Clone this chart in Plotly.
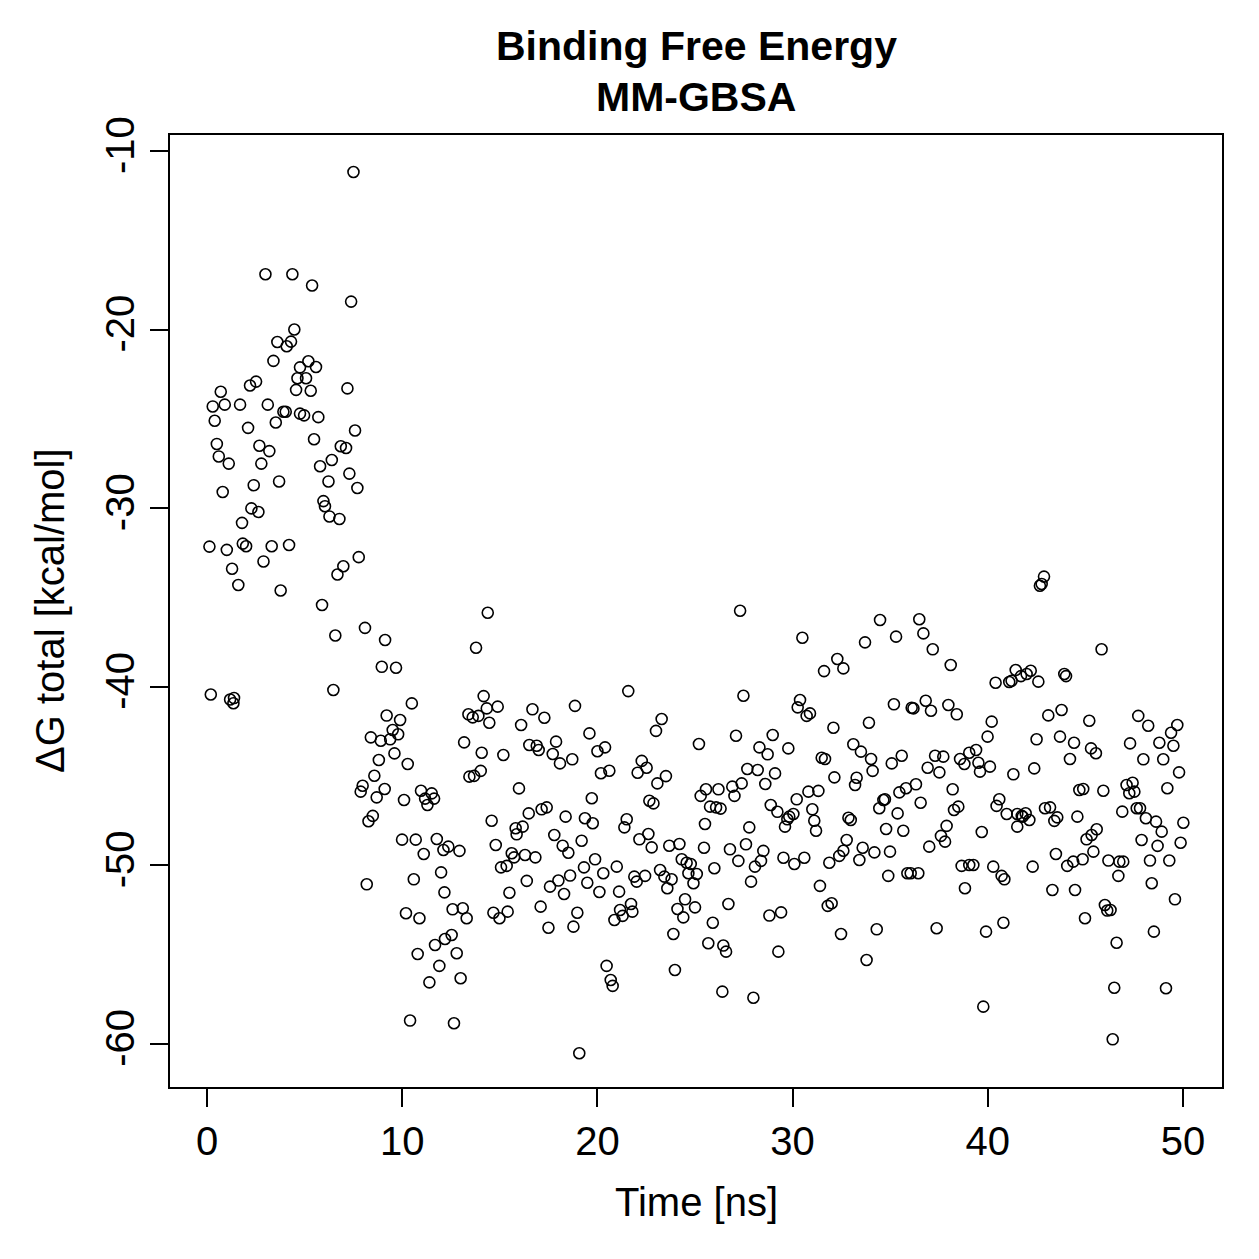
import plotly.graph_objects as go

# ---- data ----
time_ns = [
    0.12, 0.19, 0.29, 0.39, 0.50, 0.60, 0.70, 0.80, 0.905, 1.01, 1.11, 1.18, 1.28, 1.35, 1.38, 1.60, 1.69, 1.79,
    1.83, 2.00, 2.10, 2.20, 2.27, 2.39, 2.51, 2.63, 2.68, 2.78, 2.89, 2.99, 3.11, 3.19, 3.31, 3.40, 3.52, 3.60,
    3.69, 3.77, 3.91, 4.03, 4.08, 4.20, 4.30, 4.37, 4.47, 4.56, 4.63, 4.76, 4.76, 4.97, 5.07, 5.19, 5.31, 5.38,
    5.48, 5.58, 5.70, 5.79, 5.89, 5.96, 6.04, 6.22, 6.27, 6.39, 6.47, 6.57, 6.68, 6.78, 6.85, 6.98, 7.12, 7.19,
    7.29, 7.38, 7.50, 7.58, 7.70, 7.77, 7.87, 7.97, 8.09, 8.18, 8.27, 8.39, 8.49, 8.57, 8.69, 8.80, 8.90, 8.95,
    9.10, 9.12, 9.20, 9.38, 9.51, 9.60, 9.68, 9.79, 9.89, 9.99, 10.09, 10.19, 10.28, 10.40, 10.49, 10.59, 10.69,
    10.79, 10.88, 10.96, 11.10, 11.17, 11.29, 11.39, 11.51, 11.63, 11.68, 11.77, 11.90, 11.99, 12.11, 12.16,
    12.19, 12.36, 12.53, 12.58, 12.65, 12.79, 12.93, 12.99, 13.10, 13.17, 13.30, 13.39, 13.44, 13.61, 13.68,
    13.78, 13.90, 14.02, 14.07, 14.17, 14.33, 14.38, 14.46, 14.58, 14.67, 14.79, 14.89, 14.98, 15.06, 15.18,
    15.35, 15.40, 15.49, 15.61, 15.73, 15.81, 15.86, 15.98, 16.09, 16.17, 16.29, 16.38, 16.48, 16.51, 16.67,
    16.82, 16.89, 16.99, 17.09, 17.14, 17.28, 17.40, 17.49, 17.57, 17.71, 17.79, 17.88, 18.00, 18.08, 18.22,
    18.29, 18.37, 18.51, 18.60, 18.71, 18.77, 18.85, 18.97, 19.07, 19.19, 19.31, 19.36, 19.48, 19.59, 19.71,
    19.76, 19.88, 20.00, 20.10, 20.18, 20.30, 20.39, 20.47, 20.61, 20.68, 20.78, 20.87, 20.99, 21.11, 21.16,
    21.29, 21.38, 21.50, 21.58, 21.72, 21.79, 21.89, 22.01, 22.06, 22.15, 22.27, 22.44, 22.52, 22.61, 22.66,
    22.78, 22.87, 23.00, 23.07, 23.21, 23.29, 23.43, 23.51, 23.58, 23.68, 23.80, 23.89, 23.97, 24.10, 24.20,
    24.32, 24.40, 24.49, 24.57, 24.66, 24.78, 24.92, 25.00, 25.09, 25.20, 25.29, 25.46, 25.51, 25.56, 25.68,
    25.77, 25.91, 25.99, 26.08, 26.20, 26.31, 26.40, 26.45, 26.59, 26.71, 26.79, 26.91, 27.02, 27.10, 27.22,
    27.31, 27.39, 27.48, 27.61, 27.68, 27.78, 27.87, 27.99, 28.07, 28.21, 28.30, 28.38, 28.50, 28.60, 28.72,
    28.81, 28.88, 28.98, 29.10, 29.22, 29.27, 29.41, 29.53, 29.61, 29.73, 29.78, 29.83, 30.04, 30.09, 30.21,
    30.26, 30.38, 30.50, 30.60, 30.72, 30.81, 30.89, 31.01, 31.11, 31.20, 31.32, 31.40, 31.49, 31.61, 31.66,
    31.80, 31.88, 32.00, 32.09, 32.14, 32.29, 32.39, 32.48, 32.60, 32.60, 32.77, 32.86, 32.98, 33.11, 33.20,
    33.28, 33.42, 33.50, 33.59, 33.71, 33.79, 33.91, 34.02, 34.10, 34.19, 34.31, 34.44, 34.48, 34.65, 34.73,
    34.79, 34.90, 34.99, 35.08, 35.19, 35.30, 35.38, 35.47, 35.59, 35.67, 35.81, 35.88, 36.05, 36.10, 36.19,
    36.32, 36.44, 36.49, 36.56, 36.70, 36.82, 36.92, 37.00, 37.09, 37.18, 37.30, 37.38, 37.52, 37.60, 37.72,
    37.81, 37.89, 37.98, 38.10, 38.20, 38.27, 38.41, 38.49, 38.58, 38.66, 38.80, 38.83, 39.05, 39.05, 39.26,
    39.40, 39.52, 39.60, 39.69, 39.77, 39.91, 39.99, 40.11, 40.20, 40.28, 40.40, 40.45, 40.59, 40.71, 40.80,
    40.85, 40.97, 41.10, 41.22, 41.31, 41.43, 41.51, 41.51, 41.70, 41.74, 41.79, 41.94, 41.99, 42.13, 42.20,
    42.30, 42.38, 42.50, 42.59, 42.67, 42.76, 42.88, 42.93, 43.10, 43.19, 43.31, 43.41, 43.49, 43.56, 43.70,
    43.78, 43.92, 44.01, 44.07, 44.21, 44.38, 44.42, 44.47, 44.59, 44.69, 44.86, 44.89, 44.98, 45.06, 45.20,
    45.29, 45.32, 45.41, 45.54, 45.58, 45.83, 45.92, 46.00, 46.12, 46.18, 46.29, 46.40, 46.48, 46.60, 46.69,
    46.74, 46.89, 46.94, 47.11, 47.25, 47.29, 47.42, 47.51, 47.63, 47.71, 47.80, 47.88, 47.97, 48.10, 48.22,
    48.31, 48.40, 48.51, 48.62, 48.70, 48.79, 48.91, 48.99, 49.13, 49.20, 49.30, 49.39, 49.51, 49.59, 49.71,
    49.80, 49.88, 50.02,
]

dg_total = [
    -32.15, -40.43, -24.30, -25.10, -26.40, -27.10, -23.48, -29.09, -24.20, -32.33, -27.50, -40.71, -33.39, -40.92, -40.63, -34.30, -24.20, -30.82,
    -31.98, -32.13, -25.50, -23.13, -30.01, -28.71, -22.91, -30.21, -26.50, -27.50, -32.98, -16.90, -24.20, -26.80, -32.13, -21.75, -25.20, -20.69,
    -28.50, -34.61, -24.60, -24.60, -20.93, -32.06, -20.67, -16.90, -19.99, -23.37, -22.72, -22.11, -24.70, -24.80, -22.72, -21.77, -23.42, -17.53,
    -26.14, -22.09, -24.90, -27.65, -35.42, -29.60, -29.89, -28.50, -30.46, -27.30, -40.18, -37.13, -33.71, -30.60, -26.53, -33.25, -26.63, -23.29,
    -28.06, -18.43, -11.17, -25.65, -28.87, -32.74, -45.87, -45.54, -36.70, -51.06, -47.53, -42.83, -47.23, -44.98, -46.19, -44.10, -43.02, -38.88,
    -45.72, -37.38, -41.61, -42.94, -42.42, -43.73, -38.93, -42.66, -41.86, -48.56, -46.34, -52.68, -44.32, -58.69, -40.93, -50.78, -48.56,
    -54.96, -52.96, -45.82, -49.36, -46.26, -46.62, -56.55, -45.97, -46.26, -54.46, -48.52, -55.63, -50.39, -49.14, -51.51,
    -54.12, -48.95, -53.90, -52.46, -58.84, -54.92, -49.19, -56.32, -52.40, -43.11, -52.96, -41.54, -45.03, -41.71, -44.99,
    -37.81, -41.63, -44.71, -43.69, -40.52, -41.21, -35.85, -42.01, -47.50, -52.65, -48.86, -41.11, -52.96, -50.11, -43.82,
    -50.03, -52.59, -51.53, -49.32, -49.55, -47.92, -48.26, -45.69, -42.14, -47.83, -49.42, -50.87, -47.09, -43.26, -41.26,
    -49.55, -43.30, -43.54, -52.31, -46.86, -41.73, -46.75, -53.49, -51.19, -43.76, -48.30, -43.07, -50.85, -44.29, -48.90,
    -51.60, -47.27, -49.29, -50.57, -44.06, -53.43, -41.07, -52.65, -60.52, -48.62, -50.11, -47.36, -50.97, -42.61, -46.24,
    -47.64, -49.66, -43.61, -51.49, -44.84, -50.44, -43.39, -55.63, -44.70, -56.42, -56.75, -53.06, -50.07, -51.47, -52.50,
    -52.83, -47.87, -47.42, -40.24, -52.16, -52.59, -50.63, -50.91, -44.81, -48.54, -44.15, -50.59, -44.53, -48.24, -46.38,
    -48.99, -46.53, -42.47, -45.41, -50.26, -41.80, -50.63, -45.00, -51.28, -48.90, -50.78, -53.84, -55.86, -52.44, -48.80,
    -49.66, -52.91, -51.90, -49.85, -50.44, -49.92, -51.00, -52.35, -50.48, -43.20, -46.11, -49.01, -47.68, -45.74, -54.36,
    -46.71, -53.21, -50.16, -46.75, -45.74, -46.82, -57.07, -54.49, -54.83, -52.16, -49.10, -45.59, -46.11, -42.74, -49.75,
    -35.74, -45.41, -40.50, -48.82, -44.60, -47.87, -50.91, -57.41, -50.07, -44.66, -43.39, -49.75, -49.19, -45.44, -43.78,
    -52.81, -46.62, -42.70, -44.85, -47.00, -54.83, -52.63, -49.57, -47.83, -47.42, -43.45, -47.27, -47.12, -49.92, -46.30,
    -41.15, -40.74, -37.25, -49.57, -41.63, -45.87, -41.49, -46.86, -47.50, -48.06, -45.83, -51.15, -43.97, -39.12, -44.04,
    -52.27, -49.85, -52.12, -42.29, -45.07, -38.44, -49.47, -53.84, -38.97, -49.18, -48.58, -47.33, -47.46, -43.22, -45.50,
    -45.09, -49.70, -43.63, -49.01, -37.51, -55.30, -42.01, -44.04, -44.71, -49.27, -53.58, -46.80, -36.26, -46.34, -46.30,
    -47.96, -50.59, -49.23, -44.29, -40.98, -37.19, -47.09, -45.91, -43.86, -48.06, -45.68, -50.44, -50.44, -41.17, -41.21,
    -45.46, -50.44, -36.22, -46.49, -37.01, -40.78, -44.53, -48.95, -41.34, -37.90, -43.86, -53.52, -44.79, -48.35, -43.91,
    -48.67, -47.79, -41.02, -38.78, -45.74, -46.90, -41.54, -46.71, -44.04, -50.03, -44.32, -51.28, -49.98, -43.69, -49.98,
    -43.54, -44.25, -44.75, -48.13, -57.91, -53.71, -42.79, -44.47, -41.95, -50.07, -39.77, -46.67, -46.30, -50.59, -53.21,
    -50.78, -47.12, -39.73, -39.66, -44.90, -39.06, -47.12, -47.83, -39.40, -47.23, -47.27, -47.08, -39.28, -47.46, -39.10,
    -50.07, -44.57, -42.94, -39.71, -34.34, -34.24, -33.83, -46.80, -41.60, -46.75, -51.38, -47.51, -49.36, -47.31, -42.79,
    -41.30, -39.28, -39.40, -50.03, -44.04, -49.79, -43.13, -51.38, -47.27, -45.78, -49.66, -45.72, -52.96, -48.54, -41.90,
    -43.45, -48.30, -49.23, -43.72, -47.98, -37.90, -45.82, -52.22, -52.53, -49.73, -52.50, -59.74, -56.85, -54.33, -50.59,
    -49.79, -46.99, -49.79, -45.50, -45.96, -43.17, -45.37, -45.87, -46.80, -41.63, -46.80, -48.58, -44.06, -47.36, -42.18,
    -49.73, -51.00, -53.71, -47.55, -48.91, -43.13, -48.11, -44.06, -56.88, -45.68, -49.73, -42.57, -43.30, -51.90, -42.14,
    -44.79, -48.73, -47.61,
]

x_ticks = [0, 10, 20, 30, 40, 50]
y_ticks = [-10, -20, -30, -40, -50, -60]
y_tick_text = ["-10", "-20", "-30", "-40", "-50", "-60"]

title_line1 = "Binding Free Energy"
title_line2 = "MM-GBSA"
x_title = "Time [ns]"
y_title = "ΔG total [kcal/mol]"

FONT = "Liberation Sans, Arial, Helvetica, sans-serif"

fig = go.Figure()
fig.add_trace(go.Scatter(
    x=time_ns, y=dg_total, mode="markers",
    marker=dict(symbol="circle-open", size=11, color="black",
                line=dict(width=1.6, color="black")),
    showlegend=False, hoverinfo="x+y",
))

L, R, T, B = 170, 37, 135, 172
W = H = 1259
plot_w = W - L - R
plot_h = H - T - B

def py(ypix):
    return (H - B - ypix) / plot_h

def px(xpix):
    return (xpix - L) / plot_w

fig.update_layout(
    width=W, height=H,
    margin=dict(l=L, r=R, t=T, b=B, pad=0, autoexpand=False),
    paper_bgcolor="white", plot_bgcolor="white",
    font=dict(family=FONT, color="black", size=40),
    xaxis=dict(range=[-1.9, 52.0], tickvals=x_ticks, ticks="outside", ticklen=18,
               tickwidth=2.2, tickcolor="black", showline=True, linewidth=2.4,
               linecolor="black", mirror=True, showgrid=False, zeroline=False,
               tickfont=dict(size=40, family=FONT, color="black")),
    yaxis=dict(range=[-62.41, -9.10], tickvals=y_ticks, ticktext=y_tick_text,
               ticks="outside", ticklen=18, tickwidth=2.2, tickcolor="black",
               showline=True, linewidth=2.4, linecolor="black", mirror=True,
               showgrid=False, zeroline=False, tickangle=-90,
               tickfont=dict(size=40, family=FONT, color="black")),
    annotations=[
        dict(text="<b>%s</b>" % title_line1, xref="paper", yref="paper",
             x=0.5, y=py(46), xanchor="center", yanchor="middle", showarrow=False,
             font=dict(size=41, family=FONT, color="black")),
        dict(text="<b>%s</b>" % title_line2, xref="paper", yref="paper",
             x=0.5, y=py(97), xanchor="center", yanchor="middle", showarrow=False,
             font=dict(size=41, family=FONT, color="black")),
        dict(text=x_title, xref="paper", yref="paper",
             x=0.5, y=py(1202), xanchor="center", yanchor="middle", showarrow=False,
             font=dict(size=40, family=FONT, color="black")),
        dict(text=y_title, xref="paper", yref="paper", textangle=-90,
             x=px(50), y=0.5, xanchor="center", yanchor="middle", showarrow=False,
             font=dict(size=40, family=FONT, color="black")),
    ],
)

fig.write_html("out.html")
